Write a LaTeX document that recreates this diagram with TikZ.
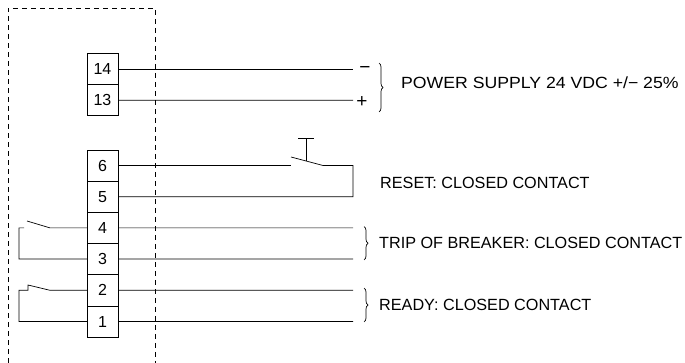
\documentclass[tikz,border=0pt]{standalone}
\usepackage{fontspec}
\setmainfont{Liberation Sans}
\usetikzlibrary{positioning,decorations.pathreplacing}
\begin{document}
\begin{tikzpicture}[x=1pt,y=-1pt,
 wire/.style={line width=0.7pt},
 term/.style={draw,line width=0.7pt,minimum width=31pt,minimum height=31.2pt,inner sep=0pt,outer sep=0pt,font=\fontsize{16}{18}\selectfont},
 lbl/.style={anchor=west,inner sep=0pt,font=\fontsize{16.2}{19}\selectfont},
 brc/.style={decorate,decoration={brace,amplitude=4pt},line width=0.7pt}]
 \useasboundingbox (0,0) rectangle (685,363);
 \draw[wire,dash pattern=on 5pt off 4pt](8,363)--(8,8)--(155,8)--(155,363);
 \node[term] (t14) at (102.5,69) {14};
 \node[term,below=0pt of t14] (t13) {13};
 \node[term] (t6) at (102.5,165.5) {6};
 \node[term,below=0pt of t6] (t5) {5};
 \node[term,below=0pt of t5] (t4) {4};
 \node[term,below=0pt of t4] (t3) {3};
 \node[term,below=0pt of t3] (t2) {2};
 \node[term,below=0pt of t2] (t1) {1};
 \coordinate (e14) at (353,69);
 \coordinate (e13) at (353,100.2);
 \coordinate (e4) at (353,227.9);
 \coordinate (e3) at (353,259.1);
 \coordinate (e2) at (353,290.3);
 \coordinate (e1) at (353,321.5);
 \draw[wire](t14.east)--(e14);
 \draw[wire](t13.east)--(e13);
 \draw[wire](t4.east)--(e4);
 \draw[wire](t3.east)--(e3);
 \draw[wire](t2.east)--(e2);
 \draw[wire](t1.east)--(e1);
 \node[inner sep=0pt,font=\fontsize{19}{21}\selectfont] (minus) at (365,70) {−};
 \node[inner sep=0pt,font=\fontsize{19}{21}\selectfont] (plus) at (362,102) {+};
 \coordinate (r1) at (291,165.5);
 \coordinate (r2) at (291,157);
 \coordinate (r3) at (323,165.5);
 \coordinate (r4) at (353,165.5);
 \coordinate (r5) at (353,196.7);
 \draw[wire](t6.east)--(r1);
 \draw[wire](r2)--(r3)--(r4)--(r5)--(t5.east);
 \draw[wire](306,161.2)--(306,138);
 \draw[wire](298,138)--(314,138);
 \coordinate (a1) at (50,227.9);
 \coordinate (a2) at (27,221);
 \draw[wire](t4.west)--(a1)--(a2);
 \draw[wire](24,227.9)--(19,227.9)--(19,259.1)--(t3.west);
 \coordinate (b1) at (50,290.3);
 \coordinate (b2) at (28,285);
 \draw[wire](t2.west)--(b1)--(b2)--(28,290.3)--(19,290.3)--(19,321.5)--(t1.west);
 \draw[brc](379,63)--(379,112);
 \draw[brc](364,226.5)--(364,260);
 \draw[brc](364,288)--(364,322);
 \node[lbl] (pwr) at (401,83) {\scalebox{1.09}[1]{POWER SUPPLY 24 VDC +/− 25\%}};
 \node[lbl] (rst) at (380,182.5) {RESET: CLOSED CONTACT};
 \node[lbl] (trip) at (379,243) {TRIP OF BREAKER: CLOSED CONTACT};
 \node[lbl] (rdy) at (379,305) {READY: CLOSED CONTACT};
\end{tikzpicture}
\end{document}
